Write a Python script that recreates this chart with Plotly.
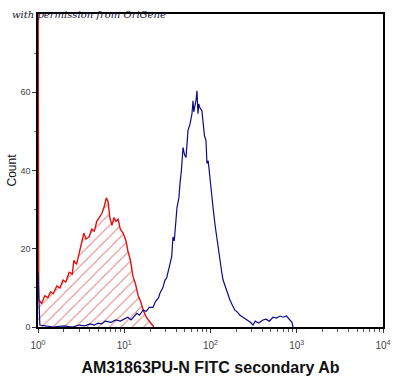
import plotly.graph_objects as go

# Red (control) histogram: fluorescence, count
red_x = [1.0, 1.02, 1.1, 1.2, 1.3, 1.4, 1.5, 1.65, 1.8, 1.95, 2.1, 2.3, 2.5, 2.6, 2.8, 3.0, 3.2, 3.4,
         3.6, 3.9, 4.2, 4.5, 4.8, 5.1, 5.5, 5.9, 6.2, 6.5, 6.8, 7.2, 7.6, 8.0, 8.5, 9.0, 9.7, 10.5,
         11.0, 11.8, 12.6, 13.5, 14.5, 15.5, 16.5, 18, 19.5, 21, 22]
red_y = [100, 7, 6, 8, 7.5, 9, 8.5, 10.5, 10, 12, 11.5, 14, 13.5, 17, 16, 19, 21, 24,
         22.5, 23, 25, 24.5, 27, 28, 29, 31, 33, 32, 28, 26, 28, 27, 27.5, 25, 24, 22,
         19.5, 17, 13, 11, 8, 6.5, 4.5, 2.5, 1.5, 0.5, 0]

# Blue (antibody) histogram
blue_x = [1.0, 1.05, 1.5, 2, 2.5, 3, 3.5, 4, 4.5, 5, 5.5, 6, 7, 8, 9, 10, 11, 12, 13, 14, 15,
          16.5, 18, 19.5, 21.5, 23, 25, 26, 28, 29.7, 31, 33.9, 35.5, 36.7, 38, 40.9, 43, 44.3,
          46, 48, 50, 52, 54.8, 58, 61, 62.7, 64, 66, 68, 69.7, 71.6, 73, 75.5, 79.5, 81.8, 85,
          88.7, 91, 94, 98.6, 103, 107, 113, 119, 124, 129, 135, 140, 150, 160, 168, 180, 192,
          205, 220, 238, 260, 290, 311, 330, 360, 406, 440, 480, 531, 580, 640, 693, 760, 833,
          880, 906]
blue_y = [14, 0.5, 0, 0.3, 0, 0.5, 0.3, 0.8, 0.5, 1, 0.8, 1.5, 1.2, 1.8, 1.5, 2, 2.5, 1.8, 2.8,
          3.5, 3, 4.3, 4, 5, 5, 6.5, 7.5, 8.7, 10, 12, 12.5, 16.3, 18, 23, 22, 30.6, 33, 36.7,
          40, 45.9, 44, 43.3, 50.2, 52, 54.5, 57.8, 55, 56.6, 58, 60.4, 54.5, 57, 56, 55.3, 52,
          49, 47.6, 41.8, 42.5, 37.5, 34, 30.6, 26, 22.2, 20, 17, 14, 12, 10, 8.5, 6.9, 5.5,
          4.3, 3.8, 3, 2.5, 2, 1.2, 0.5, 1.5, 1, 1.8, 2, 1.5, 2.5, 2.3, 2.8, 2.5, 2.8, 1.8,
          1.2, 0]

x_tickvals = [1, 10, 100, 1000, 10000]
x_ticktext = ["10<sup>0</sup>", "10<sup>1</sup>", "10<sup>2</sup>", "10<sup>3</sup>", "10<sup>4</sup>"]
x_minor = [m * d for d in [1, 10, 100, 1000] for m in range(2, 10)]
y_tickvals = [0, 20, 40, 60]

fig = go.Figure()
fig.add_trace(go.Scatter(
    x=red_x, y=red_y, mode="lines", line=dict(color="#e01010", width=1.4),
    fill="tozeroy", fillcolor="rgba(0,0,0,0)",
    fillpattern=dict(shape="/", fgcolor="#c01010", bgcolor="white", size=8, solidity=0.14),
    hoverinfo="skip", showlegend=False))
fig.add_trace(go.Scatter(
    x=blue_x, y=blue_y, mode="lines", line=dict(color="#0a0a8a", width=1.2),
    hoverinfo="skip", showlegend=False))

fig.update_layout(
    width=396, height=381,
    margin=dict(l=38, r=13, t=14, b=54),
    paper_bgcolor="white", plot_bgcolor="white",
    font=dict(family="Liberation Sans, Arial", color="#222"),
    xaxis=dict(
        type="log", range=[0, 4], automargin=False,
        tickmode="array", tickvals=x_tickvals, ticktext=x_ticktext,
        ticks="outside", ticklen=4, tickcolor="#333", tickwidth=1,
        ticklabelstandoff=4,
        tickfont=dict(size=10, color="#444"),
        minor=dict(tickmode="array", tickvals=x_minor, ticks="outside", ticklen=3,
                   tickcolor="#555", showgrid=False),
        showgrid=False, zeroline=False,
        showline=True, linecolor="black", linewidth=1.5, mirror=True,
        title=dict(text="<b>AM31863PU-N FITC secondary Ab</b>",
                   font=dict(size=16, color="#111", family="Liberation Sans, Arial"),
                   standoff=12),
    ),
    yaxis=dict(
        range=[0, 80], automargin=False,
        tickmode="array", tickvals=y_tickvals,
        ticks="outside", ticklen=4, tickcolor="#333",
        tickfont=dict(size=9, color="#444"),
        minor=dict(tickmode="array", tickvals=[10, 30, 50, 70], ticks="outside", ticklen=2,
                   tickcolor="#777", showgrid=False),
        showgrid=False, zeroline=False,
        showline=True, linecolor="black", linewidth=1.5, mirror=True,
        title=dict(text="Count", font=dict(size=12, color="#111"), standoff=1),
    ),
    annotations=[dict(
        text="<i>with permission from OriGene</i>", xref="paper", yref="paper",
        x=-0.081, y=1.0, xanchor="left", yanchor="middle", showarrow=False,
        font=dict(family="DejaVu Serif, Liberation Serif", size=10, color="#101030"))],
)

fig.write_html("out.html", config={"displayModeBar": False},
               post_script="document.body.style.margin='0';document.body.style.overflow='hidden';")
